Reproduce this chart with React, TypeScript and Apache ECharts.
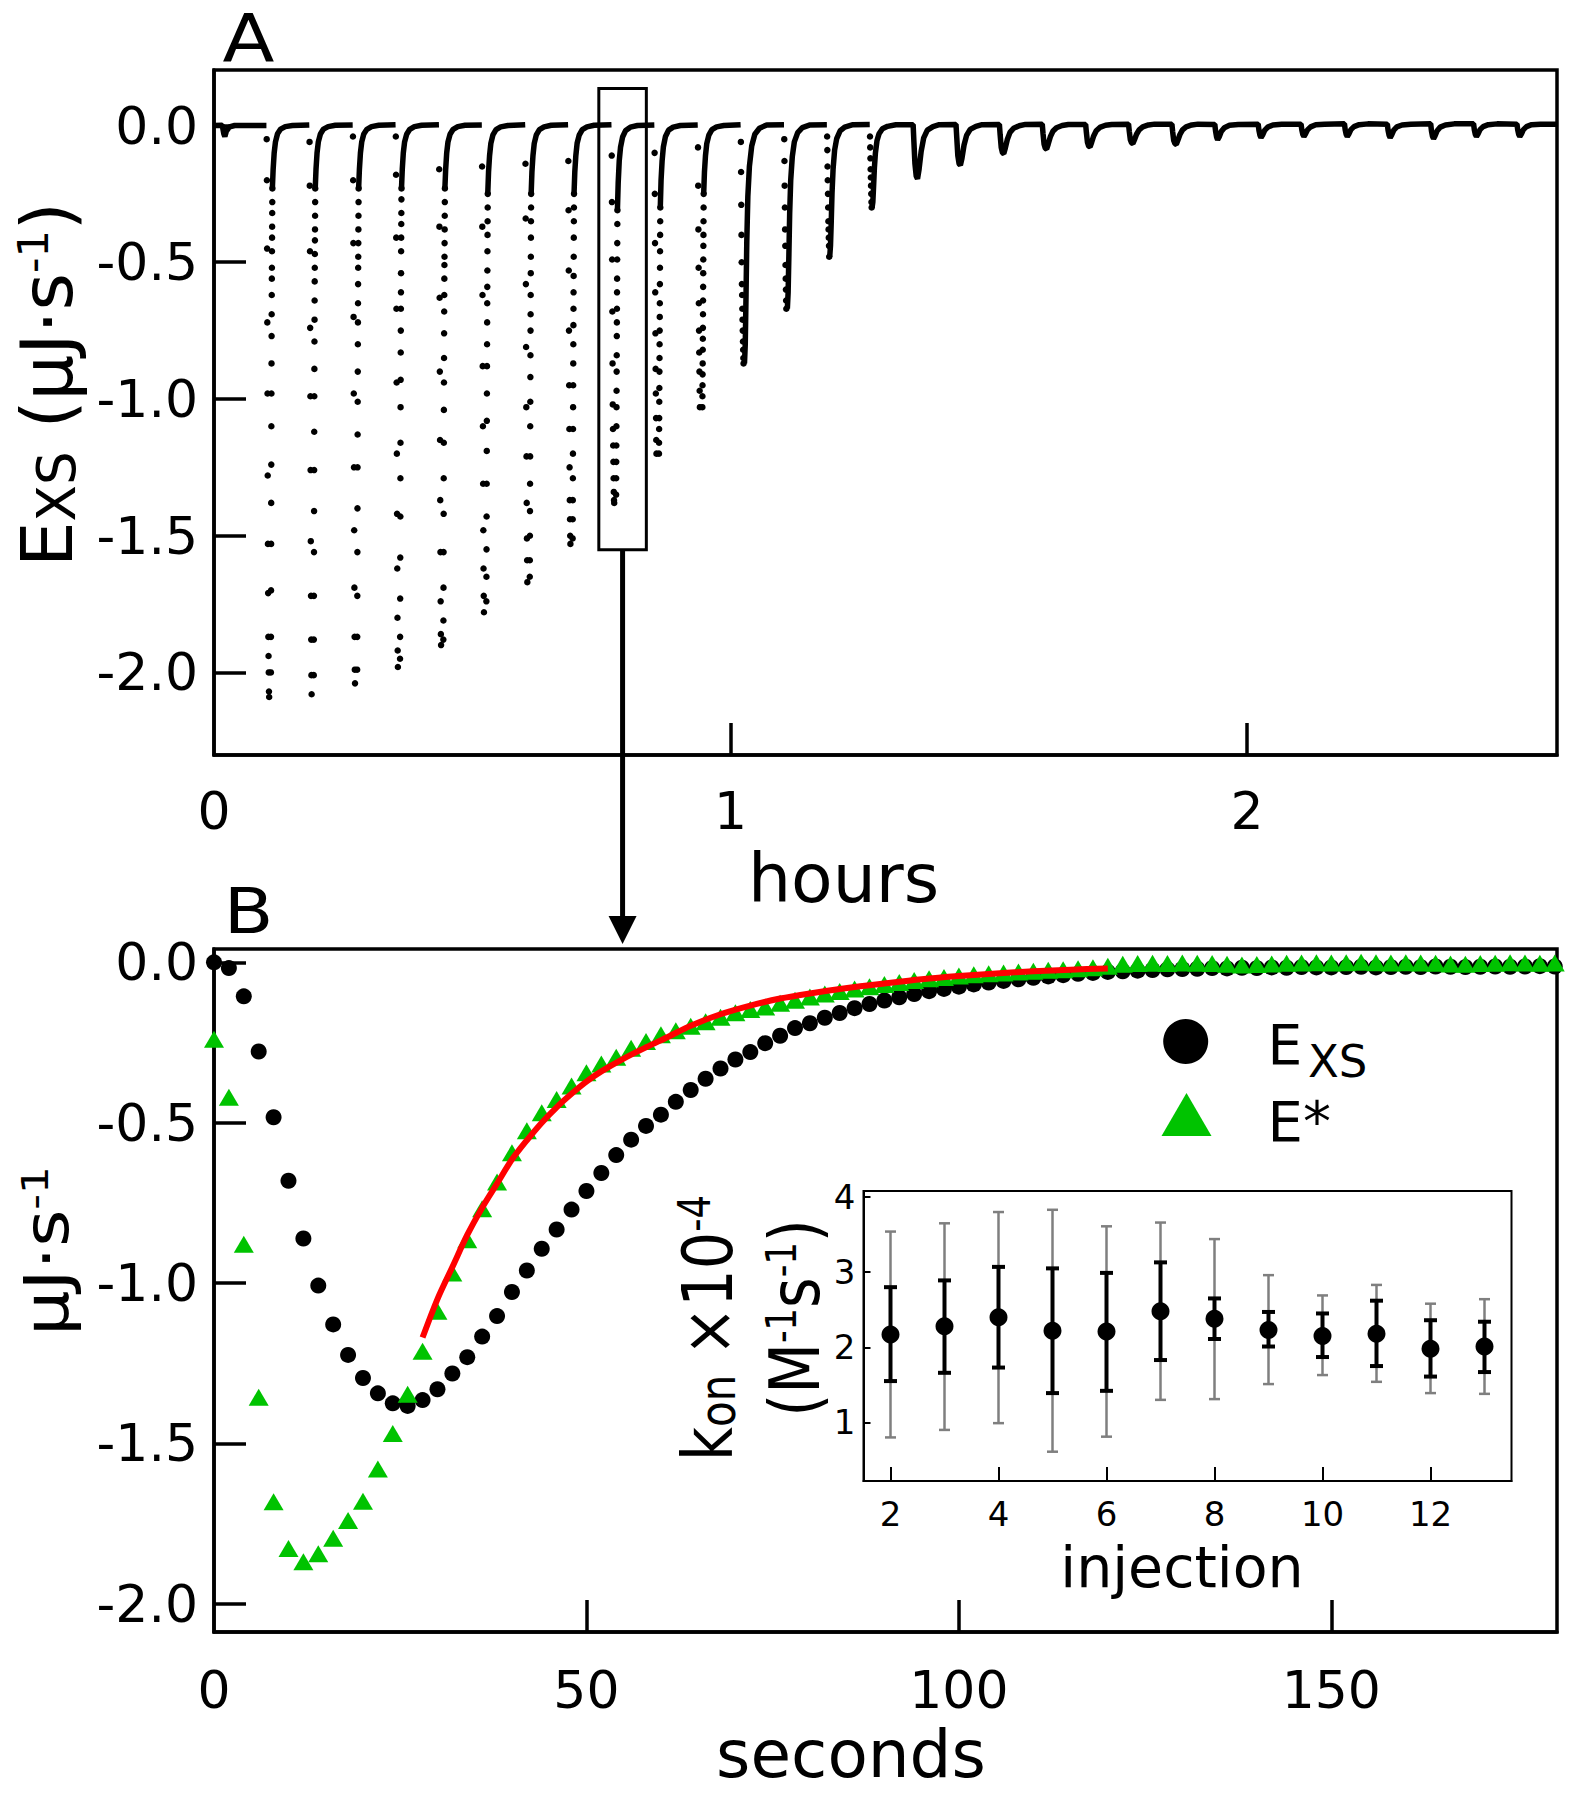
import React, { useEffect, useRef } from "react";
import * as echarts from "echarts";

const FONT = "DejaVu Sans";

// ---------------- Panel A: raw ITC trace (hours vs µJ/s) ----------------
const hourLabelsA = [0, 1, 2];
const hourTicksA = [1, 2];
const valueTicksA = [0, -0.5, -1, -1.5, -2];

// injection start times (hours)
const injHoursA = [
  0.102, 0.185, 0.269, 0.352, 0.436, 0.519, 0.603, 0.686, 0.77, 0.853,
  0.937, 1.02, 1.104, 1.187, 1.27, 1.354, 1.437, 1.521, 1.604, 1.688,
  1.771, 1.855, 1.938, 2.022, 2.105, 2.189, 2.272, 2.356, 2.439, 2.523,
];
// baseline level just before each injection
const baseA = [
  0.0, 0.002, 0.002, 0.003, 0.003, 0.002, 0.003, 0.003, 0.003, 0.002,
  0.002, 0.003, 0.003, 0.003, 0.004, 0.003, 0.004, 0.004, 0.005, 0.004,
  0.005, 0.005, 0.004, 0.005, 0.005, 0.006, 0.005, 0.006, 0.006, 0.005,
];
// trace before the first injection [hours, value]
const preInjectionA = [
  [0, 0.0], [0.016, 0.001], [0.019, -0.03], [0.021, -0.04], [0.024, -0.02], [0.03, -0.005], [0.04, 0.0],
];
// sparse descending dots of each large peak (values, top to bottom)
const downDotsA = [
  [-0.05, -0.2, -0.45, -0.72, -0.98, -1.28, -1.53, -1.71, -1.87, -1.94, -2.0, -2.07, -2.09],
  [-0.06, -0.22, -0.46, -0.74, -0.99, -1.26, -1.52, -1.72, -1.88, -2.01, -2.08],
  [-0.04, -0.2, -0.43, -0.7, -0.98, -1.25, -1.48, -1.69, -1.87, -1.99, -2.04],
  [-0.04, -0.18, -0.41, -0.67, -0.94, -1.2, -1.42, -1.62, -1.8, -1.92, -1.98],
  [-0.16, -0.37, -0.63, -0.9, -1.15, -1.37, -1.56, -1.74, -1.86, -1.9],
  [-0.15, -0.37, -0.62, -0.88, -1.1, -1.31, -1.48, -1.62, -1.72, -1.78],
  [-0.14, -0.34, -0.58, -0.81, -1.03, -1.21, -1.38, -1.51, -1.59, -1.67],
  [-0.13, -0.31, -0.53, -0.75, -0.95, -1.11, -1.25, -1.37, -1.44, -1.5, -1.53],
  [-0.11, -0.28, -0.49, -0.68, -0.87, -1.02, -1.11, -1.17, -1.23, -1.29, -1.34, -1.37, -1.38],
  [-0.1, -0.25, -0.43, -0.61, -0.76, -0.89, -0.98, -1.07, -1.15, -1.2],
  [-0.08, -0.22, -0.38, -0.52, -0.65, -0.75, -0.83, -0.9, -0.97, -1.03],
  [-0.06, -0.17, -0.29, -0.4, -0.5, -0.58, -0.62, -0.67, -0.71, -0.75, -0.79, -0.82, -0.85, -0.87],
  [-0.05, -0.13, -0.22, -0.3, -0.38, -0.44, -0.51, -0.56, -0.6, -0.64, -0.67],
  [-0.04, -0.09, -0.15, -0.2, -0.25, -0.3, -0.35, -0.38, -0.41, -0.44, -0.48],
  [-0.04, -0.08, -0.12, -0.16, -0.19, -0.22, -0.25, -0.28, -0.3],
];
// rising dots of the first peaks (values, top to bottom)
const upDotsA = [
  [-0.23, -0.28, -0.32, -0.37, -0.41, -0.46, -0.52, -0.56, -0.62, -0.69, -0.77, -0.87, -0.98, -1.1, -1.24, -1.38, -1.53, -1.7, -1.87, -2.0],
  [-0.23, -0.28, -0.33, -0.38, -0.42, -0.47, -0.52, -0.57, -0.64, -0.71, -0.79, -0.89, -0.99, -1.12, -1.26, -1.41, -1.56, -1.72, -1.88, -2.01],
  [-0.23, -0.28, -0.33, -0.38, -0.43, -0.48, -0.52, -0.58, -0.65, -0.72, -0.8, -0.9, -1.01, -1.13, -1.25, -1.4, -1.56, -1.72, -1.87, -1.99],
  [-0.23, -0.27, -0.32, -0.36, -0.41, -0.46, -0.54, -0.61, -0.67, -0.75, -0.83, -0.93, -1.03, -1.16, -1.29, -1.43, -1.58, -1.73, -1.87, -1.95],
  [-0.23, -0.28, -0.33, -0.38, -0.43, -0.48, -0.51, -0.56, -0.62, -0.68, -0.76, -0.85, -0.94, -1.04, -1.16, -1.29, -1.42, -1.56, -1.69, -1.81, -1.88],
  [-0.25, -0.3, -0.35, -0.4, -0.46, -0.53, -0.59, -0.65, -0.72, -0.8, -0.88, -0.98, -1.08, -1.19, -1.31, -1.43, -1.55, -1.65, -1.74],
  [-0.25, -0.3, -0.35, -0.41, -0.48, -0.54, -0.62, -0.69, -0.75, -0.84, -0.92, -1.01, -1.1, -1.21, -1.31, -1.41, -1.5, -1.59, -1.65],
  [-0.25, -0.3, -0.35, -0.41, -0.48, -0.55, -0.61, -0.67, -0.73, -0.8, -0.87, -0.95, -1.03, -1.11, -1.2, -1.29, -1.37, -1.44, -1.51],
  [-0.31, -0.36, -0.43, -0.49, -0.56, -0.61, -0.67, -0.72, -0.77, -0.84, -0.9, -0.97, -1.03, -1.1, -1.17, -1.23, -1.29, -1.35],
  [-0.3, -0.35, -0.4, -0.46, -0.52, -0.58, -0.65, -0.7, -0.75, -0.8, -0.85, -0.9, -0.96, -1.01, -1.07, -1.11, -1.16, -1.2],
  [-0.25, -0.3, -0.35, -0.4, -0.44, -0.49, -0.54, -0.59, -0.64, -0.69, -0.74, -0.78, -0.82, -0.87, -0.91, -0.95, -0.99, -1.03],
];
// solid recovery of peaks 1-11: time after injection (h) and values
const riseOffsetsA = [0.011, 0.0125, 0.0145, 0.017, 0.021, 0.027, 0.036, 0.05];
const riseValsA = [
  [-0.23, -0.16, -0.1, -0.06, -0.03, -0.013, -0.004, 0.0],
  [-0.23, -0.16, -0.1, -0.06, -0.031, -0.013, -0.004, 0.001],
  [-0.23, -0.16, -0.1, -0.06, -0.031, -0.014, -0.004, 0.001],
  [-0.23, -0.16, -0.1, -0.06, -0.032, -0.014, -0.004, 0.001],
  [-0.23, -0.16, -0.1, -0.06, -0.032, -0.014, -0.004, 0.001],
  [-0.25, -0.17, -0.11, -0.065, -0.034, -0.015, -0.005, 0.0],
  [-0.25, -0.17, -0.11, -0.065, -0.034, -0.015, -0.005, 0.001],
  [-0.25, -0.17, -0.11, -0.065, -0.035, -0.015, -0.005, 0.001],
  [-0.31, -0.21, -0.13, -0.08, -0.042, -0.018, -0.006, 0.0],
  [-0.3, -0.2, -0.13, -0.078, -0.04, -0.017, -0.006, 0.0],
  [-0.25, -0.17, -0.11, -0.066, -0.035, -0.015, -0.005, 0.0],
];
// solid parts of peaks 12-30: [hours after injection, value]
const dipA = [
  [[0.007, -0.87], [0.0085, -0.8], [0.01, -0.62], [0.0115, -0.42], [0.0135, -0.26], [0.0165, -0.15], [0.021, -0.075], [0.027, -0.032], [0.036, -0.01], [0.05, 0.002]],
  [[0.006, -0.67], [0.0075, -0.61], [0.009, -0.47], [0.0105, -0.32], [0.0125, -0.2], [0.0155, -0.115], [0.0195, -0.06], [0.026, -0.026], [0.035, -0.008], [0.05, 0.002]],
  [[0.005, -0.48], [0.0065, -0.44], [0.008, -0.35], [0.0095, -0.245], [0.0115, -0.16], [0.0145, -0.09], [0.0185, -0.048], [0.025, -0.02], [0.034, -0.006], [0.05, 0.003]],
  [[0.004, -0.3], [0.0055, -0.28], [0.007, -0.22], [0.0085, -0.155], [0.0105, -0.1], [0.0135, -0.056], [0.0175, -0.03], [0.024, -0.012], [0.034, -0.003], [0.05, 0.003]],
  [[0.001, -0.06], [0.003, -0.14], [0.0055, -0.185], [0.008, -0.195], [0.011, -0.16], [0.015, -0.095], [0.02, -0.045], [0.027, -0.017], [0.038, -0.004], [0.05, 0.003]],
  [[0.001, -0.045], [0.003, -0.11], [0.0055, -0.14], [0.008, -0.145], [0.011, -0.12], [0.015, -0.072], [0.02, -0.036], [0.027, -0.014], [0.038, -0.003], [0.05, 0.003]],
  [[0.001, -0.035], [0.003, -0.08], [0.0055, -0.1], [0.008, -0.102], [0.011, -0.082], [0.015, -0.05], [0.02, -0.025], [0.027, -0.01], [0.038, -0.001], [0.05, 0.004]],
  [[0.001, -0.03], [0.003, -0.068], [0.0055, -0.084], [0.008, -0.086], [0.011, -0.068], [0.015, -0.042], [0.02, -0.021], [0.027, -0.008], [0.038, 0.0], [0.05, 0.004]],
  [[0.001, -0.027], [0.003, -0.062], [0.0055, -0.076], [0.008, -0.078], [0.011, -0.062], [0.015, -0.038], [0.02, -0.019], [0.027, -0.007], [0.038, 0.001], [0.05, 0.004]],
  [[0.001, -0.022], [0.003, -0.052], [0.0055, -0.064], [0.008, -0.066], [0.011, -0.052], [0.015, -0.032], [0.02, -0.016], [0.027, -0.005], [0.038, 0.002], [0.05, 0.005]],
  [[0.001, -0.024], [0.003, -0.055], [0.0055, -0.067], [0.008, -0.069], [0.011, -0.054], [0.015, -0.033], [0.02, -0.016], [0.027, -0.005], [0.038, 0.002], [0.05, 0.005]],
  [[0.001, -0.02], [0.003, -0.042], [0.005, -0.052], [0.008, -0.042], [0.012, -0.022], [0.018, -0.008], [0.028, 0.001], [0.045, 0.004]],
  [[0.001, -0.018], [0.003, -0.036], [0.005, -0.044], [0.008, -0.035], [0.012, -0.018], [0.018, -0.006], [0.028, 0.002], [0.045, 0.005]],
  [[0.001, -0.016], [0.003, -0.033], [0.005, -0.04], [0.008, -0.031], [0.012, -0.016], [0.018, -0.005], [0.028, 0.003], [0.045, 0.005]],
  [[0.001, -0.016], [0.003, -0.033], [0.005, -0.04], [0.008, -0.031], [0.012, -0.015], [0.018, -0.004], [0.028, 0.003], [0.045, 0.006]],
  [[0.001, -0.018], [0.003, -0.036], [0.005, -0.044], [0.008, -0.034], [0.012, -0.017], [0.018, -0.005], [0.028, 0.002], [0.045, 0.005]],
  [[0.001, -0.02], [0.003, -0.04], [0.005, -0.048], [0.008, -0.037], [0.012, -0.019], [0.018, -0.006], [0.028, 0.002], [0.045, 0.006]],
  [[0.001, -0.016], [0.003, -0.033], [0.005, -0.04], [0.008, -0.031], [0.012, -0.015], [0.018, -0.004], [0.028, 0.003], [0.045, 0.006]],
  [[0.001, -0.016], [0.003, -0.033], [0.005, -0.04], [0.008, -0.031], [0.012, -0.015], [0.018, -0.004], [0.028, 0.003], [0.045, 0.005]],
];
const boxHoursA = [0.745, 0.837];
const boxValuesA = [0.135, -1.551];

// ---------------- Panel B: one injection (seconds) ----------------
const secondLabelsB = [0, 50, 100, 150];
const secondTicksB = [50, 100, 150];
const valueTicksB = [0, -0.5, -1, -1.5, -2];
const secondsB = [
  0, 2, 4, 6, 8, 10, 12, 14, 16, 18, 20, 22, 24, 26, 28, 30, 32, 34, 36, 38,
  40, 42, 44, 46, 48, 50, 52, 54, 56, 58, 60, 62, 64, 66, 68, 70, 72, 74, 76, 78,
  80, 82, 84, 86, 88, 90, 92, 94, 96, 98, 100, 102, 104, 106, 108, 110, 112, 114, 116, 118,
  120, 122, 124, 126, 128, 130, 132, 134, 136, 138, 140, 142, 144, 146, 148, 150, 152, 154, 156, 158,
  160, 162, 164, 166, 168, 170, 172, 174, 176, 178, 180,
];
const exsB = [
  0.0, -0.018, -0.106, -0.278, -0.483, -0.681, -0.861, -1.008, -1.129, -1.224,
  -1.296, -1.344, -1.375, -1.383, -1.365, -1.331, -1.282, -1.231, -1.167, -1.103,
  -1.028, -0.961, -0.893, -0.833, -0.771, -0.713, -0.657, -0.601, -0.553, -0.51,
  -0.475, -0.435, -0.398, -0.363, -0.331, -0.303, -0.28, -0.252, -0.229, -0.205,
  -0.19, -0.173, -0.158, -0.143, -0.13, -0.119, -0.109, -0.099, -0.09, -0.083,
  -0.076, -0.069, -0.063, -0.058, -0.053, -0.048, -0.044, -0.04, -0.036, -0.033,
  -0.03, -0.028, -0.026, -0.024, -0.022, -0.021, -0.02, -0.018, -0.019, -0.017,
  -0.018, -0.016, -0.017, -0.015, -0.016, -0.016, -0.015, -0.014, -0.016, -0.015,
  -0.014, -0.015, -0.013, -0.014, -0.015, -0.014, -0.013, -0.014, -0.013, -0.012, -0.013,
];
const eStarB = [
  -0.24, -0.421, -0.879, -1.356, -1.682, -1.828, -1.869, -1.844, -1.796, -1.74,
  -1.68, -1.58, -1.469, -1.347, -1.213, -1.088, -0.969, -0.865, -0.768, -0.685,
  -0.594, -0.525, -0.469, -0.428, -0.386, -0.344, -0.317, -0.296, -0.268, -0.247,
  -0.226, -0.213, -0.199, -0.185, -0.171, -0.157, -0.147, -0.139, -0.128, -0.118,
  -0.108, -0.099, -0.091, -0.083, -0.076, -0.069, -0.063, -0.057, -0.051, -0.047,
  -0.043, -0.039, -0.036, -0.033, -0.03, -0.028, -0.025, -0.023, -0.02, -0.017,
  -0.012, -0.006, -0.004, -0.003, -0.004, -0.002, -0.003, -0.004, -0.006, -0.008,
  -0.007, -0.005, -0.003, -0.002, -0.001, -0.002, -0.001, 0.0, -0.001, -0.002,
  -0.001, -0.002, -0.003, -0.005, -0.006, -0.004, -0.003, -0.001, -0.002, -0.003, -0.002,
];
const fitSecondsB = [28, 30, 32, 34, 36, 38, 40, 42, 44, 46, 48, 50, 52, 55, 58, 61, 64, 68, 72, 76, 80, 85, 90, 95, 100, 105, 110, 115, 120];
const fitValuesB = [
  -1.17, -1.05, -0.95, -0.85, -0.765, -0.69, -0.615, -0.555, -0.5, -0.452,
  -0.41, -0.372, -0.34, -0.3, -0.265, -0.232, -0.198, -0.162, -0.135, -0.113,
  -0.097, -0.08, -0.066, -0.053, -0.043, -0.035, -0.028, -0.023, -0.019,
];

// ---------------- Inset: kon per injection ----------------
const injectionLabels = [2, 4, 6, 8, 10, 12];
const konTicks = [1, 2, 3, 4];
const injections = [2, 3, 4, 5, 6, 7, 8, 9, 10, 11, 12, 13];
const konMean = [2.17, 2.28, 2.4, 2.22, 2.21, 2.48, 2.38, 2.23, 2.15, 2.18, 1.98, 2.01];
const konErrLo = [1.55, 1.66, 1.73, 1.39, 1.42, 1.83, 2.11, 2.01, 1.87, 1.75, 1.61, 1.67];
const konErrHi = [2.8, 2.89, 3.07, 3.05, 2.99, 3.13, 2.65, 2.47, 2.45, 2.62, 2.36, 2.34];
const konCiLo = [0.8, 0.9, 0.99, 0.61, 0.81, 1.3, 1.31, 1.51, 1.63, 1.54, 1.39, 1.38];
const konCiHi = [3.54, 3.65, 3.8, 3.83, 3.61, 3.66, 3.44, 2.96, 2.69, 2.83, 2.58, 2.64];

// sampling offsets of the dot columns (hours)
const DOWN_STEP_H = 0.0004;
const UP_START_H = 0.011;
const UP_STEP_H = 0.00015;

const Y_A = { min: -2.302, max: 0.203 };
const Y_B = { min: -2.088, max: 0.0415 };

function buildA() {
  const dots: number[][] = [];
  downDotsA.forEach((vals, k) =>
    vals.forEach((v, i) => dots.push([injHoursA[k] + i * DOWN_STEP_H, v]))
  );
  upDotsA.forEach((vals, k) =>
    vals.forEach((v, i) => dots.push([injHoursA[k] + UP_START_H - i * UP_STEP_H, v]))
  );
  const trace: (number | string)[][] = preInjectionA.map((p) => [p[0], p[1]]);
  injHoursA.forEach((t0, k) => {
    trace.push([t0 - 0.0005, baseA[k]]);
    if (k < riseValsA.length) {
      trace.push([t0, "-"]);
      riseOffsetsA.forEach((o, i) => trace.push([t0 + o, riseValsA[k][i]]));
    } else {
      if (k < downDotsA.length) trace.push([t0, "-"]);
      dipA[k - riseValsA.length].forEach(([o, v]) => trace.push([t0 + o, v]));
    }
  });
  trace.push([2.6, 0.005]);
  return { dots, trace };
}

const errorBar = (color: string, width: number, cap: number) => (params: any, api: any) => {
  const x = api.value(0);
  const lo = api.coord([x, api.value(1)]);
  const hi = api.coord([x, api.value(2)]);
  const style = { stroke: color, lineWidth: width, fill: null };
  return {
    type: "group",
    children: [
      { type: "line", shape: { x1: hi[0], y1: hi[1], x2: lo[0], y2: lo[1] }, style },
      { type: "line", shape: { x1: hi[0] - cap, y1: hi[1], x2: hi[0] + cap, y2: hi[1] }, style },
      { type: "line", shape: { x1: lo[0] - cap, y1: lo[1], x2: lo[0] + cap, y2: lo[1] }, style },
    ],
  };
};

function mainAxisX(gridIndex: number, min: number, max: number, labels: number[], ticks: number[], margin: number) {
  return {
    type: "value",
    gridIndex,
    min,
    max,
    axisLine: { show: true, onZero: false, lineStyle: { color: "#000", width: 3.5 } },
    splitLine: { show: false },
    axisTick: { show: true, inside: true, length: 32, customValues: ticks, lineStyle: { color: "#000", width: 3.5 } },
    axisLabel: {
      customValues: labels,
      color: "#000",
      fontFamily: FONT,
      fontSize: 52,
      margin,
      formatter: (v: number) => String(v),
    },
  };
}

function mainAxisY(gridIndex: number, min: number, max: number, ticks: number[]) {
  return {
    type: "value",
    gridIndex,
    min,
    max,
    axisLine: { show: true, onZero: false, lineStyle: { color: "#000", width: 3.5 } },
    splitLine: { show: false },
    axisTick: { show: true, inside: true, length: 32, customValues: ticks, lineStyle: { color: "#000", width: 3.5 } },
    axisLabel: {
      customValues: ticks,
      color: "#000",
      fontFamily: FONT,
      fontSize: 52,
      margin: 16,
      formatter: (v: number) => v.toFixed(1),
    },
  };
}

export default function App() {
  const ref = useRef<HTMLDivElement>(null);

  useEffect(() => {
    if (!ref.current) return;
    const chart = echarts.init(ref.current, null, { renderer: "svg" });
    const { dots, trace } = buildA();
    const GREEN = "#00c300";

    chart.setOption({
      animation: false,
      backgroundColor: "#fff",
      textStyle: { fontFamily: FONT, color: "#000" },
      grid: [
        { left: 214, top: 70, width: 1343, height: 685, show: true, borderColor: "#000", borderWidth: 3.5, backgroundColor: "transparent" },
        { left: 214, top: 949, width: 1343, height: 683, show: true, borderColor: "#000", borderWidth: 3.5, backgroundColor: "transparent" },
        { left: 863.5, top: 1191, width: 648, height: 290, show: true, borderColor: "#000", borderWidth: 2, backgroundColor: "#fff" },
      ],
      xAxis: [
        mainAxisX(0, 0, 2.6, hourLabelsA, hourTicksA, 30),
        mainAxisX(1, 0, 180.3, secondLabelsB, secondTicksB, 32),
        {
          type: "value",
          gridIndex: 2,
          min: 1.5,
          max: 13.5,
          axisLine: { show: true, onZero: false, lineStyle: { color: "#000", width: 2 } },
          splitLine: { show: false },
          axisTick: { show: true, inside: true, length: 14, customValues: injectionLabels, lineStyle: { color: "#000", width: 2 } },
          axisLabel: { customValues: injectionLabels, color: "#000", fontFamily: FONT, fontSize: 34, margin: 16 },
        },
      ],
      yAxis: [
        mainAxisY(0, Y_A.min, Y_A.max, valueTicksA),
        mainAxisY(1, Y_B.min, Y_B.max, valueTicksB),
        {
          type: "value",
          gridIndex: 2,
          min: 0.22,
          max: 4.08,
          axisLine: { show: true, onZero: false, lineStyle: { color: "#000", width: 2 } },
          splitLine: { show: false },
          axisTick: { show: true, inside: true, length: 7, customValues: konTicks, lineStyle: { color: "#000", width: 2 } },
          axisLabel: { customValues: konTicks, color: "#000", fontFamily: FONT, fontSize: 34, margin: 8 },
        },
      ],
      series: [
        {
          name: "A trace",
          type: "line",
          xAxisIndex: 0,
          yAxisIndex: 0,
          data: trace,
          showSymbol: false,
          connectNulls: false,
          lineStyle: { color: "#000", width: 5.5 },
          z: 3,
        },
        {
          name: "A dots",
          type: "scatter",
          xAxisIndex: 0,
          yAxisIndex: 0,
          data: dots,
          symbol: "circle",
          symbolSize: 6.5,
          itemStyle: { color: "#000", opacity: 1 },
          z: 3,
          markArea: {
            silent: true,
            itemStyle: { color: "rgba(0,0,0,0)", borderColor: "#000", borderWidth: 3, opacity: 1 },
            data: [[{ coord: [boxHoursA[0], boxValuesA[0]] }, { coord: [boxHoursA[1], boxValuesA[1]] }]],
          },
        },
        {
          name: "EXS",
          type: "scatter",
          xAxisIndex: 1,
          yAxisIndex: 1,
          data: secondsB.map((t, i) => [t, exsB[i]]),
          symbol: "circle",
          symbolSize: 16,
          itemStyle: { color: "#000", opacity: 1 },
          z: 3,
        },
        {
          name: "E*",
          type: "scatter",
          xAxisIndex: 1,
          yAxisIndex: 1,
          data: secondsB.map((t, i) => [t, eStarB[i]]),
          symbol: "triangle",
          symbolSize: [20, 17],
          itemStyle: { color: GREEN, opacity: 1 },
          z: 4,
        },
        {
          name: "fit",
          type: "line",
          xAxisIndex: 1,
          yAxisIndex: 1,
          data: fitSecondsB.map((t, i) => [t, fitValuesB[i]]),
          showSymbol: false,
          smooth: 0.3,
          lineStyle: { color: "#ff0000", width: 6 },
          z: 5,
        },
        {
          name: "kon range",
          type: "custom",
          xAxisIndex: 2,
          yAxisIndex: 2,
          data: injections.map((x, i) => [x, konCiLo[i], konCiHi[i]]),
          encode: { x: 0, y: [1, 2] },
          renderItem: errorBar("#7f7f7f", 2.5, 5.5),
          z: 3,
        },
        {
          name: "kon error",
          type: "custom",
          xAxisIndex: 2,
          yAxisIndex: 2,
          data: injections.map((x, i) => [x, konErrLo[i], konErrHi[i]]),
          encode: { x: 0, y: [1, 2] },
          renderItem: errorBar("#000", 4, 6.5),
          z: 4,
        },
        {
          name: "kon",
          type: "scatter",
          xAxisIndex: 2,
          yAxisIndex: 2,
          data: injections.map((x, i) => [x, konMean[i]]),
          symbol: "circle",
          symbolSize: 18,
          itemStyle: { color: "#000", opacity: 1 },
          z: 5,
        },
      ],
    });

    // arrow from the box in A to panel B
    const start = chart.convertToPixel({ gridIndex: 0 }, [(boxHoursA[0] + boxHoursA[1]) / 2, boxValuesA[1]]) as number[];
    const topB = chart.convertToPixel({ gridIndex: 1 }, [0, Y_B.max]) as number[];
    const tipY = topB[1] - 5;
    const ax = start[0];

    const txt = (x: number, y: number, text: string, size: number, align = "center", extra: any = {}) => ({
      type: "text",
      x,
      y,
      silent: true,
      ...extra,
      style: { text, fontSize: size, fontFamily: FONT, fill: "#000", align, verticalAlign: "middle" },
    });

    chart.setOption({
      graphic: [
        { type: "line", silent: true, shape: { x1: ax, y1: start[1], x2: ax, y2: tipY - 24 }, style: { stroke: "#000", lineWidth: 5 } },
        { type: "polygon", silent: true, shape: { points: [[ax - 14, tipY - 28], [ax + 14, tipY - 28], [ax, tipY]] }, style: { fill: "#000" } },
        txt(248.5, 38, "A", 66, "center", { scaleX: 1.15 }),
        txt(248.5, 911, "B", 63, "center", { scaleX: 1.15 }),
        txt(843.6, 878.5, "hours", 68),
        txt(851, 1754, "seconds", 66),
        txt(1182, 1567, "injection", 57),
        {
          type: "text",
          x: 47,
          y: 384.5,
          rotation: Math.PI / 2,
          silent: true,
          style: {
            text: "{m|E}{s|XS}{m| (µJ·s}{p|-1}{m|)}",
            fontFamily: FONT,
            fontSize: 72,
            fill: "#000",
            align: "center",
            verticalAlign: "middle",
            rich: {
              m: { fontSize: 72, fontFamily: FONT, fill: "#000" },
              s: { fontSize: 53, fontFamily: FONT, fill: "#000", verticalAlign: "bottom" },
              p: { fontSize: 43, fontFamily: FONT, fill: "#000", verticalAlign: "top" },
            },
          },
        },
        {
          type: "text",
          x: 47,
          y: 1251,
          rotation: Math.PI / 2,
          scaleX: 1.15,
          silent: true,
          style: {
            text: "{m|µJ·s}{p|-1}",
            fontFamily: FONT,
            fontSize: 62,
            fill: "#000",
            align: "center",
            verticalAlign: "middle",
            rich: {
              m: { fontSize: 62, fontFamily: FONT, fill: "#000" },
              p: { fontSize: 38, fontFamily: FONT, fill: "#000", verticalAlign: "top" },
            },
          },
        },
        {
          type: "text",
          x: 707.5,
          y: 1328,
          rotation: Math.PI / 2,
          scaleX: 0.84,
          silent: true,
          style: {
            text: "{m|k}{s|on}{m| ×10}{p|-4}",
            fontFamily: FONT,
            fontSize: 70,
            fill: "#000",
            align: "center",
            verticalAlign: "middle",
            rich: {
              m: { fontSize: 70, fontFamily: FONT, fill: "#000" },
              s: { fontSize: 50, fontFamily: FONT, fill: "#000", verticalAlign: "bottom" },
              p: { fontSize: 44, fontFamily: FONT, fill: "#000", verticalAlign: "top" },
            },
          },
        },
        {
          type: "text",
          x: 795,
          y: 1318,
          rotation: Math.PI / 2,
          scaleX: 0.84,
          silent: true,
          style: {
            text: "{m|(M}{p|-1}{m|s}{p|-1}{m|)}",
            fontFamily: FONT,
            fontSize: 70,
            fill: "#000",
            align: "center",
            verticalAlign: "middle",
            rich: {
              m: { fontSize: 70, fontFamily: FONT, fill: "#000" },
              p: { fontSize: 42, fontFamily: FONT, fill: "#000", verticalAlign: "top" },
            },
          },
        },
        // legend
        { type: "circle", silent: true, shape: { cx: 1185.7, cy: 1041.5, r: 22.5 }, style: { fill: "#000" } },
        txt(1267.5, 1045.4, "E", 55, "left"),
        txt(1308, 1061.6, "XS", 45, "left"),
        {
          type: "polygon",
          silent: true,
          shape: { points: [[1161.5, 1136], [1211.5, 1136], [1186.5, 1093]] },
          style: { fill: GREEN },
        },
        txt(1267.5, 1121, "E*", 56, "left"),
      ],
    });

    return () => chart.dispose();
  }, []);

  return (
    <div
      ref={ref}
      style={{ position: "absolute", left: 0, top: 0, width: 1569, height: 1800, background: "#fff" }}
    />
  );
}
